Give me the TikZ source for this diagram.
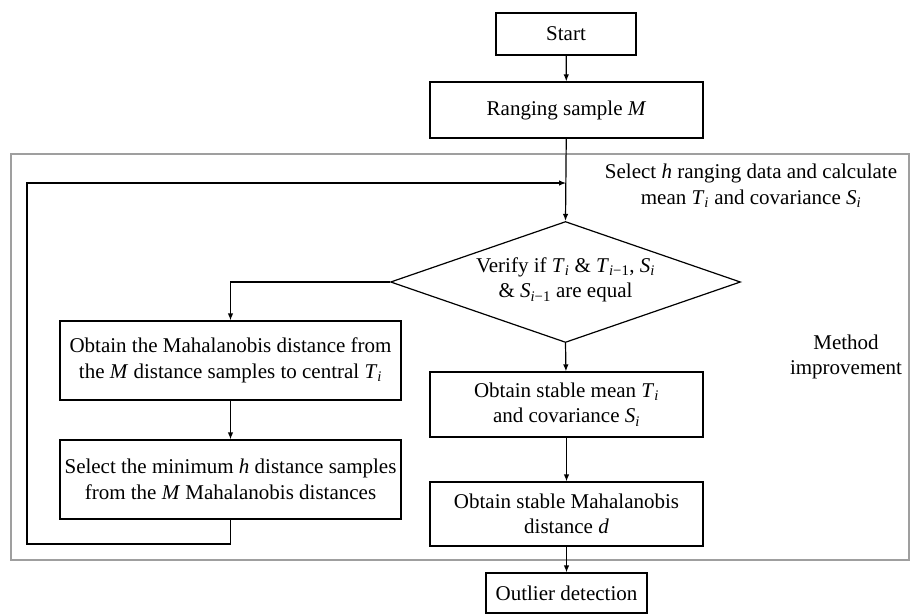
\documentclass[tikz,border=0pt]{standalone}
\usepackage{fontspec}
\setmainfont{Liberation Serif}
\usetikzlibrary{arrows.meta,shapes.geometric}
\newcommand\vsub[2]{\textit{#1}\textsubscript{\textit{#2}}}
\newcommand\vsubm[2]{\textit{#1}\textsubscript{\textit{#2}−1}}
\begin{document}
\begin{tikzpicture}[x=1pt,y=-1pt,
  font=\fontsize{21}{25.5}\selectfont,
  box/.style={draw,line width=1.2pt,align=center,inner sep=0pt},
  arr/.style={line width=1.2pt,-{Latex[length=7pt,width=5.5pt]}},
  lin/.style={line width=1.2pt},
  plain/.style={align=center,inner sep=0pt}]
\useasboundingbox (0,0) rectangle (910,615);
% gray frame
\draw[gray!75,line width=1.1pt] (11,154) rectangle (909,560);
\node[box,minimum width=140pt,minimum height=42pt] (start) at (566,34) {Start};
\node[box,minimum width=273pt,minimum height=56pt] (rang) at (566.5,110) {Ranging sample \textit{M}};
\node[plain] (sel) at (751,186) {Select \textit{h} ranging data and calculate\\mean \vsub{T}{i} and covariance \vsub{S}{i}};
\node[diamond,draw,line width=1.2pt,minimum width=350pt,minimum height=121pt,inner sep=0pt] (dia) at (565.5,282) {};
\node[plain] (diat) at (565.5,280) {Verify if \vsub{T}{i} \& \vsubm{T}{i}, \vsub{S}{i}\\\& \vsubm{S}{i} are equal};
\node[box,minimum width=341pt,minimum height=79pt] (l1) at (230.5,360.5) {Obtain the Mahalanobis distance from\\the \textit{M} distance samples to central \vsub{T}{i}};
\node[box,minimum width=341pt,minimum height=79pt] (l2) at (230.5,479.5) {Select the minimum \textit{h} distance samples\\from the \textit{M} Mahalanobis distances};
\node[box,minimum width=273pt,minimum height=65pt] (s1) at (566.5,404.5) {Obtain stable mean \vsub{T}{i}\\and covariance \vsub{S}{i}};
\node[box,minimum width=273pt,minimum height=64pt] (s2) at (566.5,514) {Obtain stable Mahalanobis\\distance \textit{d}};
\node[box,minimum width=161pt,minimum height=40pt] (out) at (566.5,593) {Outlier detection};
\node[plain] (meth) at (846,357) {Method\\improvement};
\coordinate (j) at (566,183);
\coordinate (lb) at (230.5,544);
\coordinate (lt) at (27,183);
% connectors
\draw[arr] (start) -- (rang);
\draw[arr] (rang) -- (dia.north);
\draw[arr] (dia.west) -| (l1.north);
\draw[arr] (l1) -- (l2);
\draw[arr] (l2.south) -- (lb) -| (lt) -- (j);
\draw[arr] (dia.south) -- (s1);
\draw[arr] (s1) -- (s2);
\draw[arr] (s2) -- (out);
\end{tikzpicture}
\end{document}
